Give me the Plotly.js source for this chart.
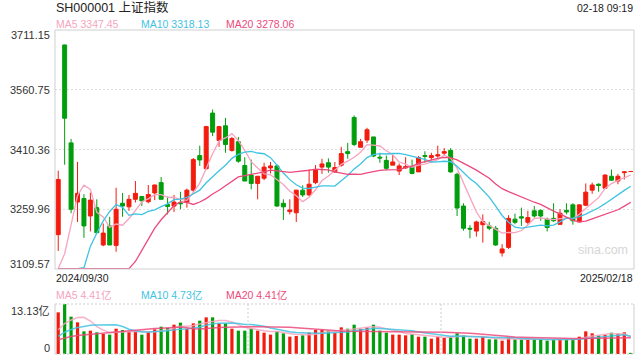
<!DOCTYPE html>
<html><head><meta charset="utf-8">
<script src="https://cdn.plot.ly/plotly-3.0.1.min.js"></script>
<style>html,body{margin:0;padding:0;background:#fff}#chart{width:640px;height:360px}</style>
</head><body><div id="chart"></div>
<script>
const dates = ['2024/09/30',
 '2024/10/08','2024/10/09','2024/10/10','2024/10/11','2024/10/14','2024/10/15','2024/10/16','2024/10/17','2024/10/18',
 '2024/10/21','2024/10/22','2024/10/23','2024/10/24','2024/10/25','2024/10/28','2024/10/29','2024/10/30','2024/10/31',
 '2024/11/01','2024/11/04','2024/11/05','2024/11/06','2024/11/07','2024/11/08','2024/11/11','2024/11/12','2024/11/13',
 '2024/11/14','2024/11/15','2024/11/18','2024/11/19','2024/11/20','2024/11/21','2024/11/22','2024/11/25','2024/11/26',
 '2024/11/27','2024/11/28','2024/11/29',
 '2024/12/02','2024/12/03','2024/12/04','2024/12/05','2024/12/06','2024/12/09','2024/12/10','2024/12/11','2024/12/12',
 '2024/12/13','2024/12/16','2024/12/17','2024/12/18','2024/12/19','2024/12/20','2024/12/23','2024/12/24','2024/12/25',
 '2024/12/26','2024/12/27','2024/12/30','2024/12/31',
 '2025/01/02','2025/01/03','2025/01/06','2025/01/07','2025/01/08','2025/01/09','2025/01/10','2025/01/13','2025/01/14',
 '2025/01/15','2025/01/16','2025/01/17','2025/01/20','2025/01/21','2025/01/22','2025/01/23','2025/01/24','2025/01/27',
 '2025/02/05','2025/02/06','2025/02/07','2025/02/10','2025/02/11','2025/02/12','2025/02/13','2025/02/14','2025/02/17','2025/02/18'];

const openP = [3196,
 3673.5,3427,3278,3287,3243,3264,3170,3218,3169,3275,3266,3285,3292,3279,3301,3327,3272,3268,
 3276,3277,3308,3395,3362,3502,3433,3470,3408,3430,3370,3346,3325,3338,3364,3369,3275,3254,3251,3308,3296,
 3327,3366,3377,3354,3371,3405,3491,3416,3434,3442,3391,3383,3371,3356,3364,3366,3354,3395,3390,3394,3401,3408,
 3348,3268,3212,3205,3221,3218,3212,3150,3164,3235,3241,3227,3256,3257,3235,3237,3222,3257,
 3271,3228,3270,3308,3323,3313,3343,3331,3352,3355];
const highP = [3357,
 3674,3437,3379,3298,3302,3285,3224,3241,3314,3301,3296,3331,3293,3321,3322,3341,3292,3296,
 3304,3312,3389,3420,3470,3511,3470,3490,3442,3442,3391,3385,3343,3377,3379,3373,3285,3285,3309,3320,3360,
 3371,3387,3388,3379,3417,3427,3496,3437,3465,3442,3402,3395,3396,3375,3391,3385,3394,3406,3402,3420,3414,3414,
 3352,3275,3220,3231,3247,3228,3218,3172,3245,3249,3264,3256,3268,3260,3239,3275,3260,3275,
 3275,3272,3325,3327,3325,3348,3360,3349,3356,3355];
const lowP = [3155,
 3372,3250,3228,3188,3204,3200,3167,3170,3153,3241,3256,3277,3268,3275,3283,3285,3247,3253,
 3260,3264,3302,3369,3360,3444,3417,3402,3405,3377,3331,3310,3285,3333,3350,3266,3233,3247,3228,3291,3293,
 3323,3349,3352,3352,3367,3387,3419,3416,3427,3391,3377,3358,3371,3346,3362,3348,3354,3377,3383,3390,3394,3352,
 3243,3206,3187,3191,3176,3207,3168,3141,3160,3222,3218,3221,3239,3231,3204,3228,3221,3247,
 3221,3227,3268,3299,3304,3313,3331,3323,3335,3355];
const closeP = [3335,
 3489,3260,3300,3218,3283,3201,3200,3170,3260,3268,3285,3300,3281,3297,3321,3285,3267,3278,
 3274,3308,3385,3384,3468,3454,3468,3423,3438,3381,3331,3325,3343,3366,3369,3268,3266,3258,3308,3296,3323,
 3360,3374,3366,3365,3400,3400,3423,3430,3460,3394,3389,3363,3379,3369,3367,3350,3390,3393,3395,3397,3405,3354,
 3263,3212,3210,3228,3229,3212,3170,3160,3237,3227,3238,3239,3243,3243,3214,3231,3250,3253,
 3231,3271,3303,3321,3320,3346,3333,3343,3354,3355];
// volume, 亿
const volume = [10.94,
 13.13,9.80,8.32,5.95,6.13,5.69,5.25,5.08,6.65,6.30,5.78,5.95,5.08,5.78,6.48,7.18,6.83,7.70,
 8.23,6.65,8.05,8.75,9.63,9.63,8.05,8.05,6.65,6.13,6.13,6.65,6.13,5.60,5.08,5.95,5.43,4.55,4.73,4.90,5.60,
 6.30,6.39,6.13,5.51,7.00,6.65,7.70,6.65,7.00,7.70,6.13,5.60,5.08,5.08,4.90,5.25,4.55,4.55,4.03,4.55,4.20,4.55,
 5.43,4.90,4.03,4.03,4.55,3.85,3.85,3.50,4.38,3.85,3.85,3.85,3.85,3.85,3.50,3.85,3.85,3.85,
 3.85,4.55,5.95,5.43,4.90,5.08,5.60,5.34,5.69,0.30];
// closes / volumes of the sessions before the first shown day (used for the moving averages)
const priorCloses = [2842.21,2811.04,2802.98,2784.28,2788.31,2765.81,2736.49,2744.19,2721.80,2717.12,
 2704.09,2717.28,2736.02,2736.81,2748.92,2863.13,2896.31,2932.39,3087.53];
const priorVolumes = [3.4,3.0,2.8,2.7,2.6,2.9,2.8,2.9,2.8,2.9,2.4,2.6,3.2,3.1,3.2,5.1,5.2,4.9,5.8];

const priceTicks = [3109.57,3259.96,3410.36,3560.75,3711.15];
const priceTickText = ['3109.57','3259.96','3410.36','3560.75','3711.15'];
const volTicks = [0,13.13];
const volTickText = ['0','13.13亿'];
const dateLabels = ['2024/09/30','2025/02/18'];
const maPeriods = [5,10,20];
const priceMALegend = ['MA5 3347.45','MA10 3318.13','MA20 3278.06'];
const volMALegend = ['MA5 4.41亿','MA10 4.73亿','MA20 4.41亿'];

const RED = '#f21c0e', GREEN = '#009e0c';
const maColors = ['#f7a4c0','#3fc3e2','#ec4a7d'];
const FONT = '"Liberation Sans", Arial, "Noto Sans CJK SC", sans-serif';
const TXT = '#333';

function movingAvg(prior, vals, n){
  const all = prior.concat(vals), off = prior.length;
  return vals.map((_, i) => { let s = 0; for (let k = 0; k < n; k++) s += all[off + i - k]; return s / n; });
}
const pMin = priceTicks[0], pMax = priceTicks[priceTicks.length-1];
const vMax = volTicks[1];

const traces = [];
traces.push({type:'candlestick', x:dates, open:openP, high:highP, low:lowP, close:closeP,
  xaxis:'x', yaxis:'y', whiskerwidth:0, hoverinfo:'none',
  increasing:{line:{color:RED,width:1}, fillcolor:RED},
  decreasing:{line:{color:GREEN,width:1}, fillcolor:GREEN}});
maPeriods.forEach((n, i) => {
  const ma = movingAvg(priorCloses, closeP, n).map(v => Math.min(pMax, Math.max(pMin + 1, v)));
  traces.push({type:'scatter', mode:'lines', x:dates, y:ma, xaxis:'x', yaxis:'y',
    line:{color:maColors[i], width:1.3}, hoverinfo:'none'});
});
traces.push({type:'bar', x:dates, y:volume, xaxis:'x2', yaxis:'y2', width:0.5,
  marker:{color:closeP.map((c, i) => c > openP[i] ? RED : GREEN), line:{width:0}}, hoverinfo:'none'});
maPeriods.forEach((n, i) => {
  const ma = movingAvg(priorVolumes, volume, n);
  traces.push({type:'scatter', mode:'lines', x:dates, y:ma, xaxis:'x2', yaxis:'y2',
    line:{color:maColors[i], width:1.5}, opacity:0.85, hoverinfo:'none'});
});

// pixel helpers for annotation placement (plot area: x 55..634, y 30..354)
const px = x => (x - 55) / 579;
const py = y => (354 - y) / 324;
const priceDomain = [py(269), 1];
const volDomain = [0, py(304)];

const ann = [];
ann.push({text:'SH000001 上证指数', x:px(54), y:py(8), xref:'paper', yref:'paper', xanchor:'left', yanchor:'middle',
  showarrow:false, font:{family:FONT, size:12.5, color:'#222'}});
ann.push({text:'02-18 09:19', x:px(635), y:py(8), xref:'paper', yref:'paper', xanchor:'right', yanchor:'middle',
  showarrow:false, font:{family:FONT, size:10.5, color:'#222'}});
const legX = [54, 139, 224];
priceMALegend.forEach((t, i) => ann.push({text:t, x:px(legX[i]), y:py(24), xref:'paper', yref:'paper',
  xanchor:'left', yanchor:'middle', showarrow:false, font:{family:FONT, size:10.5, color:maColors[i]}}));
volMALegend.forEach((t, i) => ann.push({text:t, x:px(legX[i]), y:py(295), xref:'paper', yref:'paper',
  xanchor:'left', yanchor:'middle', showarrow:false, font:{family:FONT, size:10.5, color:maColors[i]}}));
priceTicks.forEach((v, i) => ann.push({text:priceTickText[i], x:px(52), y:v, xref:'paper', yref:'y',
  xanchor:'right', yanchor:'middle', yshift: i === 0 ? 5.5 : (i === priceTicks.length-1 ? -5 : 0),
  showarrow:false, font:{family:FONT, size:11, color:TXT}}));
volTicks.forEach((v, i) => ann.push({text:volTickText[i], x:px(52), y:v, xref:'paper', yref:'y2',
  xanchor:'right', yanchor:'middle', yshift: i === 0 ? 6 : -7,
  showarrow:false, font:{family:FONT, size:11, color:TXT}}));
ann.push({text:dateLabels[0], x:px(54), y:py(277.5), xref:'paper', yref:'paper', xanchor:'left', yanchor:'middle',
  showarrow:false, font:{family:FONT, size:10.5, color:'#222'}});
ann.push({text:dateLabels[1], x:px(635), y:py(277.5), xref:'paper', yref:'paper', xanchor:'right', yanchor:'middle',
  showarrow:false, font:{family:FONT, size:10.5, color:'#222'}});
ann.push({text:'sina.com', x:px(602.5), y:py(250), xref:'paper', yref:'paper', xanchor:'center', yanchor:'middle',
  showarrow:false, font:{family:FONT, size:12.5, color:'#d6d6d6'}});

const BORDER = '#cfcfcf';
const shapes = [
  {type:'rect', xref:'paper', yref:'paper', x0:0, x1:1, y0:priceDomain[0], y1:1, line:{color:BORDER, width:1}},
  {type:'line', xref:'paper', yref:'paper', x0:0, x1:0, y0:0, y1:volDomain[1], line:{color:BORDER, width:1}},
  {type:'line', xref:'paper', yref:'paper', x0:1, x1:1, y0:0, y1:volDomain[1], line:{color:BORDER, width:1}},
  {type:'line', xref:'paper', yref:'paper', x0:0, x1:1, y0:volDomain[1], y1:volDomain[1], line:{color:BORDER, width:1, dash:'2px,2px'}},
  {type:'line', xref:'paper', yref:'paper', x0:0, x1:1, y0:0, y1:0, line:{color:BORDER, width:1, dash:'2px,2px'}},
  {type:'line', xref:'paper', yref:'paper', x0:1/3, x1:1/3, y0:0, y1:volDomain[1], line:{color:BORDER, width:1, dash:'2px,2px'}},
  {type:'line', xref:'paper', yref:'paper', x0:2/3, x1:2/3, y0:0, y1:volDomain[1], line:{color:BORDER, width:1, dash:'2px,2px'}}
];

const xBase = {type:'category', range:[-0.5, dates.length-0.5], showticklabels:false, showgrid:false,
  zeroline:false, showline:false, ticks:'', fixedrange:true, rangeslider:{visible:false}};
const layout = {
  width:640, height:360, margin:{l:55, r:6, t:30, b:6}, paper_bgcolor:'#fff', plot_bgcolor:'#fff',
  showlegend:false, boxgap:0.38, boxgroupgap:0, hovermode:false,
  xaxis:Object.assign({}, xBase, {anchor:'y', domain:[0,1]}),
  xaxis2:Object.assign({}, xBase, {anchor:'y2', domain:[0,1]}),
  yaxis:{domain:priceDomain, range:[pMin, pMax], tickvals:priceTicks, showticklabels:false, ticks:'',
    showgrid:true, gridcolor:'#dedede', griddash:'2px,2px', gridwidth:1.3, zeroline:false, showline:false, fixedrange:true},
  yaxis2:{domain:volDomain, range:[0, vMax], showticklabels:false, ticks:'', showgrid:false, zeroline:false,
    showline:false, fixedrange:true},
  annotations:ann, shapes:shapes, font:{family:FONT}
};
Plotly.newPlot('chart', traces, layout, {displayModeBar:false, staticPlot:true});
</script></body></html>
